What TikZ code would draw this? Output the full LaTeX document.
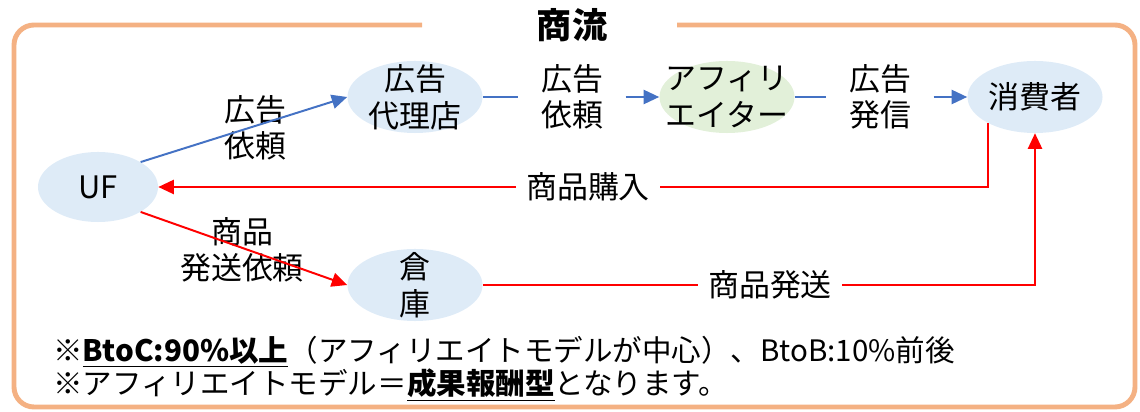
\documentclass[tikz,border=0pt]{standalone}
\usepackage{fontspec}
\setmainfont{Noto Sans CJK JP}
\usetikzlibrary{shapes.geometric,arrows.meta}
\definecolor{cus-orange}{RGB}{244, 177, 131}
\definecolor{cus-blue}{RGB}{222, 235, 247}
\definecolor{cus-green}{RGB}{226, 240, 217}
\definecolor{cus-line}{RGB}{68, 114, 196}
\definecolor{cus-red}{RGB}{255, 0, 0}
\begin{document}
\begin{tikzpicture}[x=0.025cm, y=-0.025cm,
	every node/.style={font=\fontsize{22}{26}\selectfont},
	txt/.style={align=center, inner sep=0pt},
	cut/.style={align=center, fill=white, inner xsep=7pt, inner ysep=2pt},
	bubble/.style={ellipse, fill=cus-blue, minimum width=3.375cm, minimum height=1.8cm},
	blueline/.style={draw=cus-line, line width=1.4pt},
	redline/.style={draw=cus-red, line width=1.4pt},
	arrowed/.style={-{Triangle[length=11pt,width=10pt]}}]

	\useasboundingbox (0,0) rectangle (1140,412);

	% frame and title
	\draw [cus-orange, line width=3.5pt, rounded corners=0.5cm] (422,25) -- (14,25) -- (14,407) -- (1135,407) -- (1135,25) -- (677,25);
	\node [font=\fontsize{25}{30}\selectfont\bfseries] (title) at (572,25) {商流};

	% parties
	\node [bubble, minimum width=3cm, minimum height=1.75cm, label={[txt]center:UF}] (uf) at (98,187) {};
	\node [bubble, label={[txt]center:広告\\代理店}] (dairi) at (415,97) {};
	\node [bubble, fill=cus-green, label={[txt]center:アフィリ\\エイター}] (affi) at (727,97) {};
	\node [bubble, label={[txt]center:消費者}] (shohi) at (1035,97) {};
	\node [bubble, label={[txt]center:倉\\庫}] (souko) at (415,285) {};

	% labels
	\node [txt] (irai0) at (255,128) {広告\\依頼};
	\node [cut, inner xsep=16pt] (irai) at (572,97) {広告\\依頼};
	\node [cut, inner xsep=16pt] (hasshin) at (880,97) {広告\\発信};
	\node [cut] (kounyu) at (588,187) {商品購入};
	\node [txt] (hirai) at (242,250) {商品\\発送依頼};
	\node [cut] (hassou) at (770,285) {商品発送};

	% flows
	\draw [blueline, arrowed] (uf.north east) -- (dairi.west);
	\draw [blueline] (dairi) -- (irai);
	\draw [blueline, arrowed] (irai) -- (affi);
	\draw [blueline] (affi) -- (hasshin);
	\draw [blueline, arrowed] (hasshin) -- (shohi);
	\draw [redline] (shohi.209) |- (kounyu);
	\draw [redline, arrowed] (kounyu) -- (uf);
	\draw [redline, arrowed] (uf.south east) -- (souko.west);
	\draw [redline] (souko) -- (hassou);
	\draw [redline, arrowed] (hassou) -| (shohi);

	% notes
	\node [anchor=west, inner sep=0pt, font=\fontsize{21}{24}\selectfont] (note1) at (53,352) {※\underline{\textbf{BtoC:90\%以上}}（アフィリエイトモデルが中心）、BtoB:10\%前後};
	\node [anchor=west, inner sep=0pt, font=\fontsize{21}{24}\selectfont] (note2) at (53,385) {※アフィリエイトモデル＝\underline{\textbf{成果報酬型}}となります。};
\end{tikzpicture}
\end{document}
